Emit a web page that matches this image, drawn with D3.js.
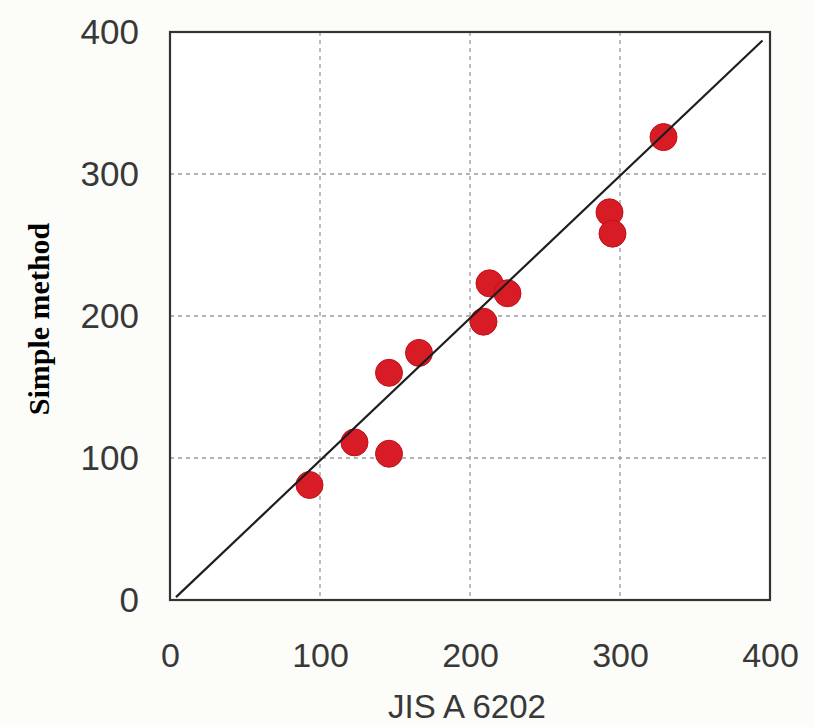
<!DOCTYPE html>
<html><head><meta charset="utf-8">
<script src="https://cdn.jsdelivr.net/npm/d3@7"></script>
<style>body{margin:0;background:#fcfcf9;}svg{display:block;}</style>
</head><body>
<svg id="c" width="813" height="727"></svg>
<script>
const xTicks = [0, 100, 200, 300, 400];
const yTicks = [0, 100, 200, 300, 400];
const jisValues = [93, 123, 146, 146, 166, 209, 213, 225, 293, 295, 329];
const simpleValues = [81, 111, 103, 160, 174, 196, 223, 216, 273, 258, 326];
const lineX = [4, 395];

const svg = d3.select("#c");
const x = d3.scaleLinear().domain([0, 400]).range([170, 770]);
const y = d3.scaleLinear().domain([0, 400]).range([600, 32]);

svg.append("rect").attr("width", 813).attr("height", 727).attr("fill", "#fcfcf9");
svg.append("rect").attr("x", 170).attr("y", 32).attr("width", 600).attr("height", 568).attr("fill", "#ffffff");

// grid
svg.append("g").selectAll("line").data(xTicks.slice(1, -1)).join("line")
  .attr("x1", d => x(d)).attr("x2", d => x(d)).attr("y1", y(400)).attr("y2", y(0))
  .attr("stroke", "#9a9a9a").attr("stroke-width", 1.3).attr("stroke-dasharray", "4,4");
svg.append("g").selectAll("line").data(yTicks.slice(1, -1)).join("line")
  .attr("y1", d => y(d)).attr("y2", d => y(d)).attr("x1", x(0)).attr("x2", x(400))
  .attr("stroke", "#9a9a9a").attr("stroke-width", 1.3).attr("stroke-dasharray", "4,4");

const tickFont = "Liberation Sans, Arial, sans-serif";
// axes with d3
const xAxis = d3.axisBottom(x).tickValues(xTicks).tickSize(0).tickPadding(43);
const gx = svg.append("g").attr("transform", `translate(0,${y(0)})`).call(xAxis);
gx.select(".domain").remove();
gx.selectAll("text").attr("font-family", tickFont).attr("font-size", 34).attr("fill", "#383838");

const yAxis = d3.axisLeft(y).tickValues(yTicks).tickSize(0).tickPadding(31);
const gy = svg.append("g").attr("transform", `translate(${x(0)},0)`).call(yAxis);
gy.select(".domain").remove();
gy.selectAll("text").attr("font-family", tickFont).attr("font-size", 35).attr("fill", "#383838");

// points
svg.append("g").selectAll("circle").data(jisValues.map((v, i) => [v, simpleValues[i]])).join("circle")
  .attr("cx", d => x(d[0])).attr("cy", d => y(d[1])).attr("r", 13.5)
  .attr("fill", "#d81c26").attr("stroke", "#c0101a").attr("stroke-width", 1);

// 1:1 line
svg.append("line")
  .attr("x1", x(lineX[0])).attr("y1", y(lineX[0] - 2)).attr("x2", x(lineX[1])).attr("y2", y(lineX[1] - 1))
  .attr("stroke", "#1e1e1e").attr("stroke-width", 2.2);

// frame
svg.append("rect").attr("x", 170).attr("y", 32).attr("width", 600).attr("height", 568)
  .attr("fill", "none").attr("stroke", "#333").attr("stroke-width", 2.2);

// titles
svg.append("text").attr("x", 467).attr("y", 718).attr("text-anchor", "middle")
  .attr("font-family", tickFont).attr("font-size", 33).attr("fill", "#383838").text("JIS A 6202");
svg.append("text").attr("transform", "translate(49,319) rotate(-90)").attr("text-anchor", "middle")
  .attr("font-family", "Liberation Serif, serif").attr("font-weight", "bold").attr("font-size", 30).attr("fill", "#000").text("Simple method");
</script>
</body></html>
